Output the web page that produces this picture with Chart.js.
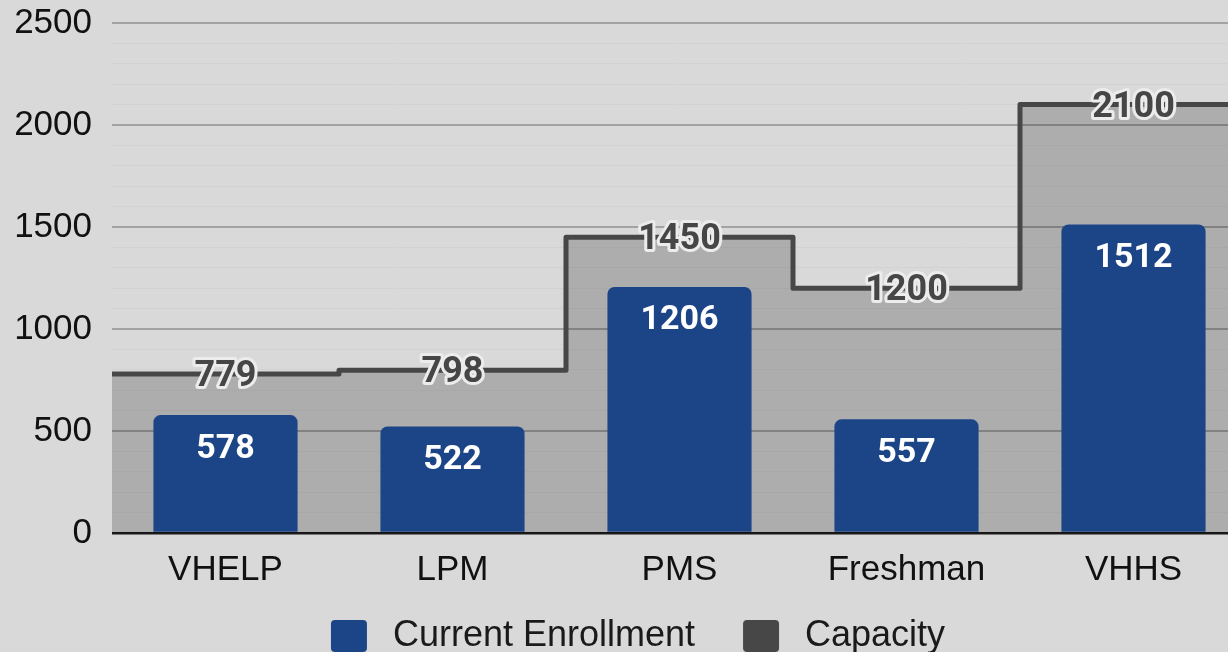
<!DOCTYPE html>
<html>
<head>
<meta charset="utf-8">
<script src="https://cdn.jsdelivr.net/npm/chart.js@4"></script>
<style>
  html, body { margin: 0; padding: 0; background: #d9d9d9; overflow: hidden; }
  #wrap { width: 1248px; height: 670px; margin-top: -18px; }
</style>
</head>
<body>
<div id="wrap"><canvas id="chart"></canvas></div>
<script>
// datos del gráfico
const schools = ["VHELP", "LPM", "PMS", "Freshman", "VHHS"];
const enrollment = [578, 522, 1206, 557, 1512];
const capacity = [779, 798, 1450, 1200, 2100];
const yTicks = [0, 500, 1000, 1500, 2000, 2500];

const blue = "#1c4587";
const darkGray = "#474747";

// escalón de capacidad: cada valor ocupa toda su categoría
const capacitySteps = capacity.map((v, i) => ({ x: i, y: v }));
capacitySteps.push({ x: capacity.length, y: capacity[capacity.length - 1] });

// cuadrito de leyenda con margen para separar los elementos
function legendSwatch(color) {
    const c = document.createElement("canvas");
    c.width = 73;
    c.height = 34;
    const g = c.getContext("2d");
    g.fillStyle = color;
    g.beginPath();
    g.roundRect(29, 1, 36, 32, 4);
    g.fill();
    return c;
}

const valueLabels = {
    id: "valueLabels",
    afterDatasetsDraw(chart) {
        const ctx = chart.ctx;
        const bars = chart.getDatasetMeta(0).data;
        const y = chart.scales.y;
        ctx.save();
        ctx.textAlign = "center";
        ctx.textBaseline = "middle";
        ctx.font = "bold 34px Roboto";
        ctx.fillStyle = "#ffffff";
        bars.forEach((bar, i) => ctx.fillText(String(enrollment[i]), bar.x, bar.y + 34));
        ctx.font = "bold 36px Roboto";
        ctx.lineJoin = "round";
        capacity.forEach((v, i) => {
            const py = y.getPixelForValue(v) + 3;
            ctx.lineWidth = 6;
            ctx.strokeStyle = "#ececec";
            ctx.strokeText(String(v), bars[i].x, py);
            ctx.fillStyle = "#464646";
            ctx.fillText(String(v), bars[i].x, py);
        });
        ctx.restore();
    }
};

new Chart(document.getElementById("chart"), {
    data: {
        labels: schools,
        datasets: [
            {
                type: "bar",
                label: "Current Enrollment",
                data: enrollment,
                backgroundColor: blue,
                borderRadius: { topLeft: 7, topRight: 7 },
                borderSkipped: "start",
                grouped: false,
                categoryPercentage: 1,
                barPercentage: 0.635,
                order: 0
            },
            {
                type: "line",
                label: "Capacity",
                data: capacitySteps,
                xAxisID: "x2",
                stepped: true,
                borderColor: darkGray,
                borderWidth: 5,
                borderJoinStyle: "round",
                backgroundColor: "rgba(0,0,0,0.2)",
                fill: "origin",
                pointRadius: 0,
                order: 1
            }
        ]
    },
    options: {
        responsive: true,
        maintainAspectRatio: false,
        animation: false,
        layout: { padding: { top: 2, right: 1, left: 0, bottom: -12 } },
        plugins: {
            tooltip: { enabled: false },
            legend: {
                position: "bottom",
                labels: {
                    color: "#1a1a1a",
                    font: { family: "Liberation Sans", size: 36 },
                    usePointStyle: true,
                    pointStyleWidth: 73,
                    padding: 19,
                    generateLabels(chart) {
                        return Chart.defaults.plugins.legend.labels.generateLabels(chart).map((item, i) => {
                            item.pointStyle = legendSwatch(i === 0 ? blue : darkGray);
                            return item;
                        });
                    }
                }
            }
        },
        scales: {
            x: {
                type: "category",
                offset: true,
                grid: { display: false },
                border: { display: false },
                ticks: {
                    color: "#111",
                    padding: 8,
                    font: { family: "Liberation Sans", size: 35 }
                }
            },
            x2: {
                type: "linear",
                min: 0,
                max: schools.length,
                display: false
            },
            y: {
                min: yTicks[0],
                max: yTicks[yTicks.length - 1],
                border: { display: false },
                afterFit(scale) { scale.width = 112; },
                ticks: {
                    stepSize: 100,
                    autoSkip: false,
                    padding: 20,
                    color: "#111",
                    font: { family: "Liberation Sans", size: 35 },
                    callback: v => yTicks.includes(v) ? v : ""
                },
                grid: {
                    drawTicks: false,
                    color: c => c.tick.value === 0 ? "#1a1a1a" : (yTicks.includes(c.tick.value) ? "#a3a3a3" : "#d2d2d2"),
                    lineWidth: c => c.tick.value === 0 ? 2.5 : (yTicks.includes(c.tick.value) ? 2 : 1)
                }
            }
        }
    },
    plugins: [valueLabels]
});
</script>
</body>
</html>
